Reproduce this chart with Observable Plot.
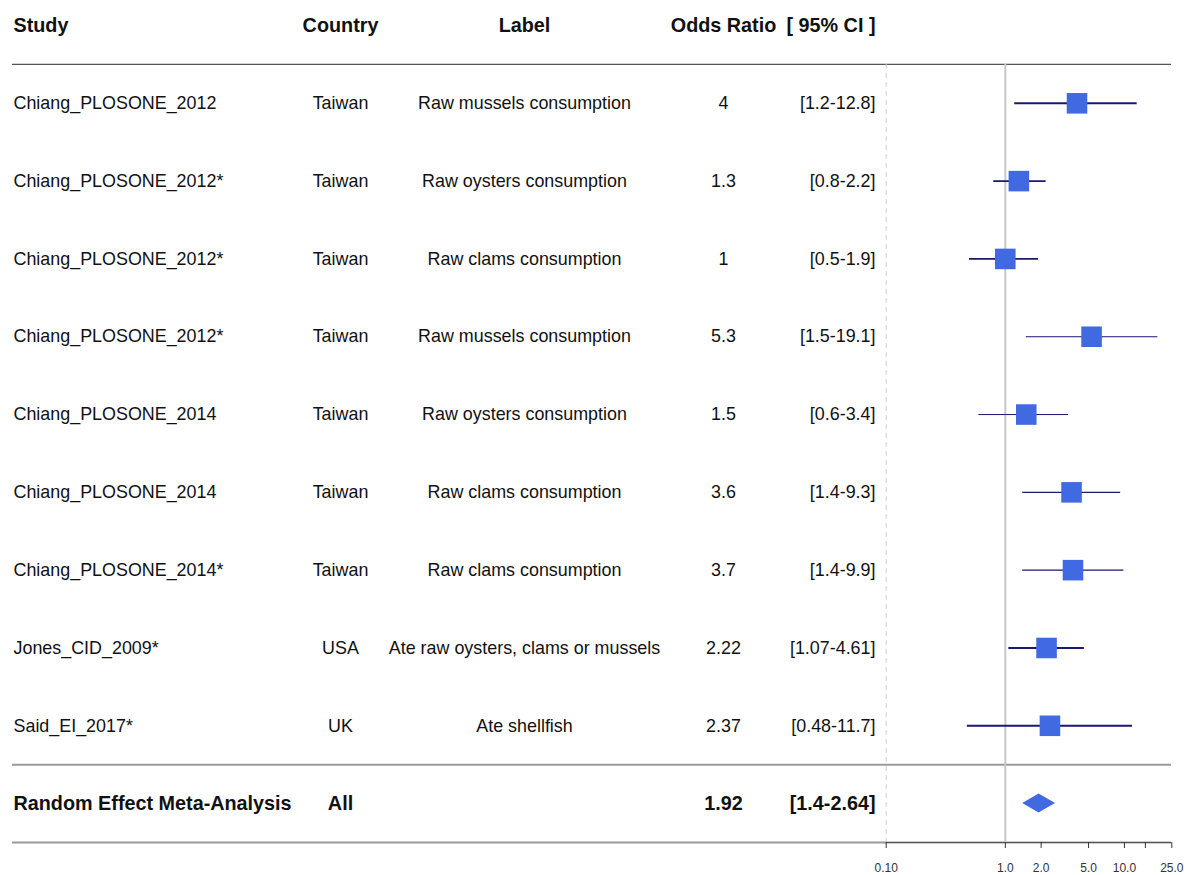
<!DOCTYPE html>
<html>
<head>
<meta charset="utf-8">
<script src="https://cdn.jsdelivr.net/npm/d3@7"></script>
<script src="https://cdn.jsdelivr.net/npm/@observablehq/plot@0.6"></script>
<style>
  body { margin: 0; background: #fff; }
  svg { overflow: visible; }
</style>
</head>
<body>
<div id="chart"></div>
<script>
// Individual studies (one row each)
const studies = [
  "Chiang_PLOSONE_2012", "Chiang_PLOSONE_2012*", "Chiang_PLOSONE_2012*",
  "Chiang_PLOSONE_2012*", "Chiang_PLOSONE_2014", "Chiang_PLOSONE_2014",
  "Chiang_PLOSONE_2014*", "Jones_CID_2009*", "Said_EI_2017*"
];
const countries = ["Taiwan", "Taiwan", "Taiwan", "Taiwan", "Taiwan", "Taiwan", "Taiwan", "USA", "UK"];
const exposures = [
  "Raw mussels consumption", "Raw oysters consumption", "Raw clams consumption",
  "Raw mussels consumption", "Raw oysters consumption", "Raw clams consumption",
  "Raw clams consumption", "Ate raw oysters, clams or mussels", "Ate shellfish"
];
const oddsRatios = [4, 1.3, 1, 5.3, 1.5, 3.6, 3.7, 2.22, 2.37];
const ciLower    = [1.2, 0.8, 0.5, 1.5, 0.6, 1.4, 1.4, 1.07, 0.48];
const ciUpper    = [12.8, 2.2, 1.9, 19.1, 3.4, 9.3, 9.9, 4.61, 11.7];

// Pooled estimate
const pooledName = "Random Effect Meta-Analysis";
const pooledCountry = "All";
const pooledOR = 1.92;
const pooledLower = 1.4;
const pooledUpper = 2.64;

// Column headings and axis ticks
const headings = ["Study", "Country", "Label", "Odds Ratio", "[ 95% CI ]"];
const xTicks = [0.1, 1, 2, 5, 10, 15, 25];
const xTickLabels = ["0.10", "1.0", "2.0", "5.0", "10.0", "", "25.0"];

// Line weight of each confidence interval
const ciWidths = [2, 1.7, 1.7, 1, 1, 1.2, 1.3, 2, 2];

const rows = studies.map((s, i) => ({
  i, study: s, country: countries[i], label: exposures[i],
  or: oddsRatios[i], lo: ciLower[i], hi: ciUpper[i],
  ci: `[${ciLower[i]}-${ciUpper[i]}]`
}));
const pooledRow = studies.length;          // row index of the summary
const headerRow = -1;
const pooled = [{
  i: pooledRow, study: pooledName, country: pooledCountry,
  or: pooledOR, ci: `[${pooledLower}-${pooledUpper}]`
}];

// Diamond for the pooled estimate (half-height in row units)
const dh = 0.122;
const diamond = [
  {x: pooledLower, y1: pooledRow, y2: pooledRow},
  {x: pooledOR, y1: pooledRow - dh, y2: pooledRow + dh},
  {x: pooledUpper, y1: pooledRow, y2: pooledRow}
];

const font = "'Liberation Sans', Arial, Helvetica, sans-serif";
const ink = "#111";
const colStudy = 1, colCountry = 328, colLabel = 512, colOR = 711, colCI = 863;

const textCol = (data, field, dx, anchor, extra = {}) =>
  Plot.text(data, {
    y: "i", text: field, frameAnchor: "left", dx, textAnchor: anchor,
    fill: ink, fontSize: 17.9, ...extra
  });

const bold = {fontWeight: "bold", fontSize: 19.8};

const heading = (k, dx, anchor) =>
  Plot.text([headings[k]], {
    y: () => headerRow, text: d => d, frameAnchor: "left", dx,
    textAnchor: anchor, fill: ink, ...bold
  });

const chart = Plot.plot({
  width: 1190,
  height: 875,
  marginLeft: 12,
  marginRight: 19,
  marginTop: 0,
  marginBottom: 33,
  style: {fontFamily: font, background: "#fff"},
  x: {type: "log", domain: [xTicks[0], xTicks[xTicks.length - 1]], range: [885.7, 1171.3]},
  y: {domain: [headerRow, pooledRow + 0.5], range: [25, 842], axis: null},
  marks: [
    // horizontal separators
    Plot.ruleY([headerRow + 0.5], {stroke: "#555", strokeWidth: 1.2}),
    Plot.ruleY([pooledRow - 0.5, pooledRow + 0.5], {stroke: "#9a9a9a", strokeWidth: 2}),
    // reference lines at the axis minimum and at OR = 1
    Plot.ruleX([xTicks[0]], {y1: headerRow + 0.5, y2: pooledRow + 0.5, stroke: "#cfcfcf", strokeWidth: 1, strokeDasharray: "5,4"}),
    Plot.ruleX([1], {y1: headerRow + 0.5, y2: pooledRow + 0.5, stroke: "#c8c8c8", strokeWidth: 2}),
    // axis baseline
    Plot.ruleY([{y: pooledRow + 0.5, x1: xTicks[0], x2: xTicks[xTicks.length - 1]}],
      {y: "y", x1: "x1", x2: "x2", stroke: "#555", strokeWidth: 1.2}),
    // confidence intervals and point estimates
    Plot.ruleY(rows, {y: "i", x1: "lo", x2: "hi", stroke: "#191970", strokeWidth: d => ciWidths[d.i]}),
    Plot.dot(rows, {x: "or", y: "i", symbol: "square", r: 11.6, fill: "royalblue", stroke: null}),
    Plot.areaY(diamond, {x: "x", y1: "y1", y2: "y2", fill: "royalblue"}),
    // table columns
    textCol(rows, "study", colStudy, "start"),
    textCol(rows, "country", colCountry, "middle"),
    textCol(rows, "label", colLabel, "middle"),
    textCol(rows, "or", colOR, "middle"),
    textCol(rows, "ci", colCI, "end"),
    textCol(pooled, "study", colStudy, "start", bold),
    textCol(pooled, "country", colCountry, "middle", bold),
    textCol(pooled, "or", colOR, "middle", bold),
    textCol(pooled, "ci", colCI, "end", bold),
    // headings
    heading(0, colStudy, "start"),
    heading(1, colCountry, "middle"),
    heading(2, colLabel, "middle"),
    heading(3, colOR, "middle"),
    heading(4, colCI, "end"),
    // x axis
    Plot.axisX({
      ticks: xTicks,
      tickFormat: d => xTickLabels[xTicks.indexOf(d)],
      tickSize: 6,
      tickPadding: 14.5,
      fontSize: 12,
      color: "#333",
      label: null
    })
  ]
});

document.getElementById("chart").appendChild(chart);
</script>
</body>
</html>
